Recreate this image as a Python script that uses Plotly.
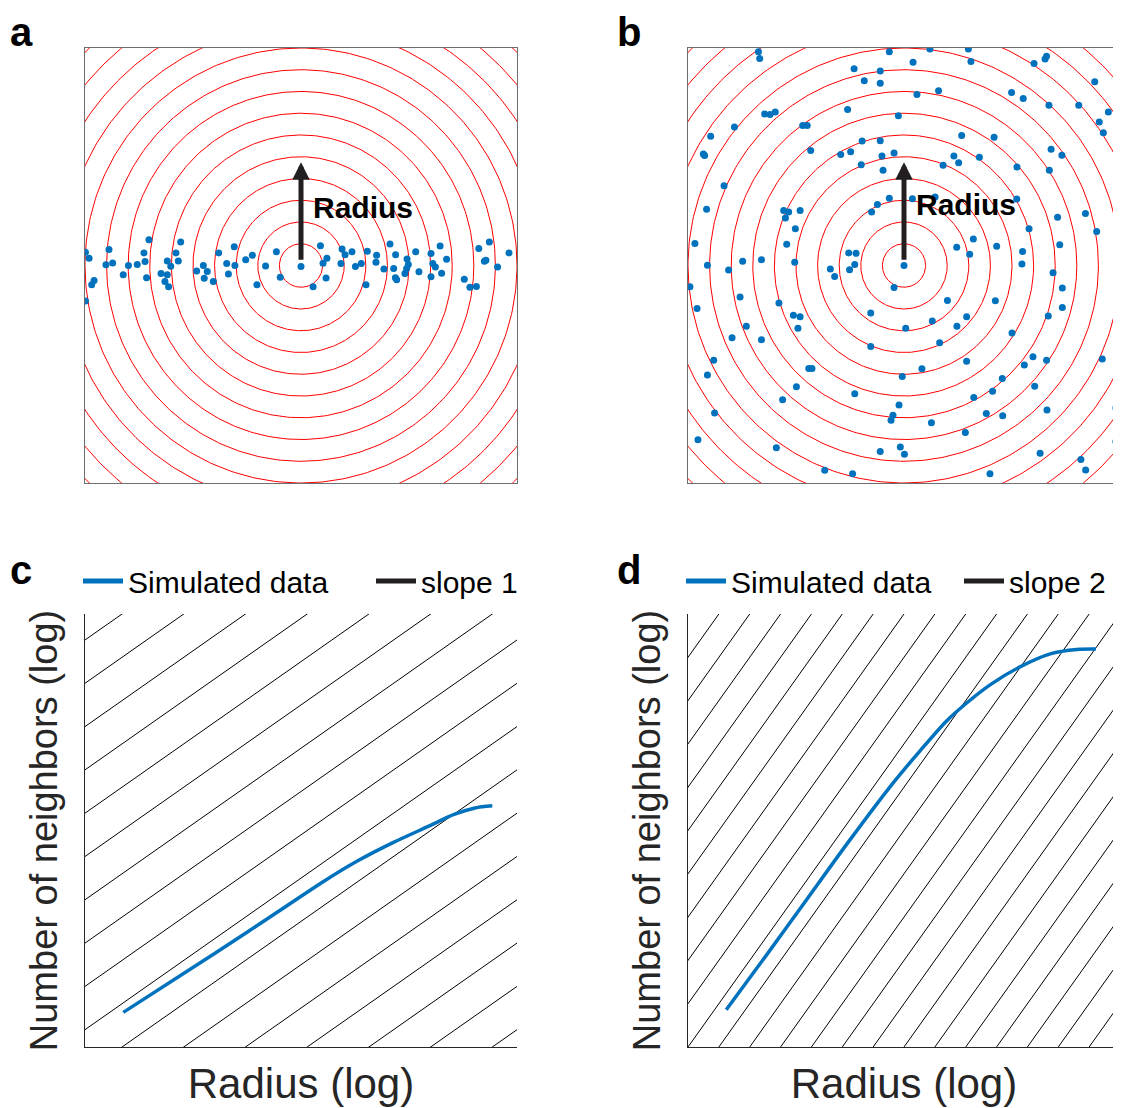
import numpy as np
import plotly.graph_objects as go

FONT = "Liberation Sans, Arial, Helvetica, sans-serif"
BLUE = "#0072BD"
RED = "#FF0000"
INK = "#231F20"

# ---------------- data ----------------
# Panel a: points spread along a line (units: box spans -10..10)
a_x = [-9.81, -9.98, -8.89, -9.03, -8.72, -9.69, -9.58, -9.98, -8.23, -7.99,
       -7.58, -7.27, -7.22, -7.04, -7.15, -6.48, -6.19, -6.03, -6.19, -6.30,
       -6.13, -5.79, -5.68, -5.57, -4.83, -4.52, -4.34, -4.48, -4.06, -3.81,
       -3.44, -3.36, -3.09, -3.06, -2.56, -2.25, -2.04, -1.64, -1.14, -0.96,
       0.00, 0.56, 0.90, 1.02, 1.20, 1.16, 1.90, 2.04, 1.85, 2.36,
       2.52, 2.79, 3.07, 3.01, 3.50, 3.47, 3.84, 4.12, 4.38, 4.29,
       4.37, 4.43, 4.81, 4.89, 4.97, 4.91, 5.31, 5.46, 6.02, 6.10,
       6.22, 6.02, 6.44, 6.51, 6.74, 7.56, 7.82, 8.12, 8.23, 8.72,
       8.49, 8.56, 9.10, 9.63]
a_y = [0.33, 0.61, 0.73, 0.03, 0.12, -0.89, -0.69, -1.63, -0.43, 0.00,
       0.05, 0.58, 0.18, 1.18, -0.56, -0.37, 0.21, -0.03, -0.42, -0.74,
       -0.98, 0.58, 0.21, 1.08, -0.25, 0.00, -0.28, -0.59, -0.74, 0.58,
       0.09, -0.39, 0.86, 0.00, 0.27, 0.47, -0.89, -0.02, 0.63, -0.54,
       -0.05, -0.98, 0.91, 0.10, 0.33, -0.57, 0.76, 0.49, 0.09, 0.63,
       -0.05, 0.09, 0.66, -0.88, 0.47, 0.15, -0.16, 0.99, 0.49, -0.14,
       -0.56, -0.65, -0.37, -0.14, 0.05, 0.30, 0.63, -0.29, 0.55, 0.09,
       -0.07, -0.52, 0.90, -0.36, 0.29, -0.63, -1.00, -0.96, 0.78, 1.08,
       0.19, 0.24, -0.07, 0.58]

# Panel b: points spread over the plane
b_x = [-6.74, -6.68, -0.68, 1.20, 2.98, 3.10, 0.42, -2.31, -1.10, -1.84,
       -1.10, 6.02, 6.53, 6.60, 8.83, 0.60, 1.60, 4.98, 5.52, 6.71,
       8.09, 9.46, 9.04, 9.23, -2.61, -6.45, -6.20, -5.96, -0.26, -7.85,
       -8.95, -9.29, -9.23, -4.69, -4.48, -4.32, -2.93, -2.47, -1.94, -1.10,
       -1.02, -0.46, -1.98, -0.97, 2.67, 4.17, 2.31, 2.53, 1.81, 3.49,
       6.81, 7.31, 5.23, 6.73, -8.33, -9.14, -5.57, -5.34, -5.49, -4.81,
       -5.03, -5.43, -9.68, -9.10, -7.47, -6.60, -8.12, -5.06, -0.68, -1.23,
       -1.50, 0.39, 1.44, 5.22, 5.79, 7.11, 8.40, 8.92, 3.21, 2.44,
       3.04, 4.29, 5.49, 5.46, 7.21, 6.90, 7.33, 7.33, -2.56, -2.22,
       -2.28, -2.52, -3.41, -3.21, 0.00, -0.46, -9.91, -9.58, -7.59, -5.79,
       -5.12, -4.81, -4.91, -7.30, -7.96, -6.60, -1.54, 0.08, 1.31, 2.01,
       2.45, 2.90, 4.23, 6.68, 5.00, 1.65, -1.54, -8.81, -9.10, -4.41,
       -4.26, 0.83, -0.08, 2.90, 5.57, 5.97, 6.60, 9.18, 4.55, 4.10,
       6.05, -4.98, -5.62, -2.28, 3.23, -0.23, -0.51, -0.60, 1.27, 3.81,
       4.57, 6.62, 9.81, -8.77, -9.54, -5.91, -1.10, -0.17, 0.02, 2.84,
       6.30, 8.19, 8.41, 9.81, -3.67, -2.38, 3.98]
b_y = [9.83, 9.52, 9.83, 9.95, 9.95, 9.38, 9.34, 9.05, 8.94, 8.49,
       8.38, 9.29, 9.49, 9.62, 8.45, 7.86, 8.03, 7.95, 7.68, 7.37,
       7.37, 7.06, 6.60, 6.10, 7.17, 6.97, 6.94, 7.06, 6.89, 6.37,
       5.94, 5.13, 5.06, 6.44, 6.44, 5.29, 5.10, 5.23, 5.72, 5.74,
       5.04, 5.17, 4.63, 4.38, 5.98, 5.90, 5.04, 4.72, 4.61, 4.98,
       5.35, 5.07, 4.53, 4.38, 3.67, 2.59, 2.53, 2.46, 2.18, 2.53,
       1.69, 0.98, 1.01, 0.01, 0.19, 0.27, -0.21, 0.15, 3.09, 2.81,
       2.46, 3.07, 3.15, 3.06, 1.69, 2.22, 2.39, 1.56, 1.22, 0.84,
       0.52, 0.89, 0.64, 0.07, 0.95, -0.33, -1.04, -1.93, 0.58, 0.56,
       0.05, -0.19, -0.16, -0.50, 0.00, -1.01, -0.98, -1.98, -1.45, -1.72,
       -2.29, -2.36, -2.89, -2.79, -3.32, -3.41, -2.18, -2.89, -2.55, -1.61,
       -2.79, -2.36, -1.62, -2.32, -3.10, -3.55, -3.72, -4.36, -5.04, -4.73,
       -4.73, -4.75, -5.10, -4.40, -4.58, -4.20, -4.36, -4.30, -5.20, -5.78,
       -5.55, -5.57, -6.17, -5.90, -6.07, -6.41, -6.89, -7.12, -7.23, -6.81,
       -6.91, -6.64, -6.55, -6.78, -8.01, -8.38, -8.55, -8.34, -8.68, -7.68,
       -8.63, -8.92, -9.40, -8.09, -9.41, -9.57, -9.57]

ring_radii = [1, 2, 3, 4, 5, 6, 7, 8, 9, 10, 11, 12, 13, 14]
arrow_tail = 0.2
arrow_tip = 4.75

# Panel c: log-log curve (x: log radius, y: log neighbours)
c_curve_x = [0.62, 2.10, 3.26, 3.84, 4.42, 4.99, 5.57, 5.98, 6.32, 6.60]
c_curve_y = [0.80, 2.16, 3.25, 3.80, 4.30, 4.72, 5.10, 5.37, 5.52, 5.57]
slope1_offsets = [-6.6, -5.6, -4.6, -3.6, -2.6, -1.6, -0.6, 0.4, 1.4, 2.4,
                  3.4, 4.4, 5.4, 6.4, 7.4, 8.4, 9.4]

# Panel d
d_curve_x = [0.62, 1.28, 1.93, 2.57, 3.28, 3.76, 4.19, 4.52, 4.90, 5.38, 5.87, 6.30, 6.61]
d_curve_y = [0.86, 2.14, 3.42, 4.68, 6.02, 6.84, 7.53, 7.95, 8.37, 8.78, 9.08, 9.18, 9.19]
slope2_offsets = [-14, -13, -12, -11, -10, -9, -8, -7, -6, -5, -4, -3, -2, -1,
                  0, 1, 2, 3, 4, 5, 6, 7, 8, 9]

# ---------------- helpers ----------------
def ring_xy(radii):
    th = np.linspace(0, 2 * np.pi, 361)
    xs, ys = [], []
    for r in radii:
        xs += list(r * np.cos(th)) + [None]
        ys += list(r * np.sin(th)) + [None]
    return xs, ys


def slope_lines(offsets, slope, x0=-1.0, x1=8.0):
    xs, ys = [], []
    for c in offsets:
        xs += [x0, x1, None]
        ys += [slope * x0 + c, slope * x1 + c, None]
    return xs, ys


fig = go.Figure()

# ---- panels a and b ----
rx, ry = ring_xy(ring_radii)
for (px, py, xa, ya) in [(a_x, a_y, "x", "y"), (b_x, b_y, "x2", "y2")]:
    fig.add_trace(go.Scatter(x=rx, y=ry, mode="lines", xaxis=xa, yaxis=ya,
                             line=dict(color=RED, width=1), showlegend=False,
                             hoverinfo="skip"))
    fig.add_trace(go.Scatter(x=px, y=py, mode="markers", xaxis=xa, yaxis=ya,
                             marker=dict(color=BLUE, size=7, line=dict(width=0)),
                             showlegend=False, cliponaxis=True))

# ---- panel c ----
sx, sy = slope_lines(slope1_offsets, 1)
fig.add_trace(go.Scatter(x=sx, y=sy, mode="lines", xaxis="x3", yaxis="y3",
                         line=dict(color="#000000", width=1), showlegend=False))
fig.add_trace(go.Scatter(x=c_curve_x, y=c_curve_y, mode="lines", xaxis="x3", yaxis="y3",
                         line=dict(color=BLUE, width=3.5, shape="spline", smoothing=0.8),
                         showlegend=False))
fig.add_trace(go.Scatter(x=[None], y=[None], mode="lines", xaxis="x3", yaxis="y3",
                         name="Simulated data", line=dict(color=BLUE, width=5),
                         legend="legend"))
fig.add_trace(go.Scatter(x=[None], y=[None], mode="lines", xaxis="x3", yaxis="y3",
                         name="slope 1", line=dict(color=INK, width=5),
                         legend="legend"))

# ---- panel d ----
sx, sy = slope_lines(slope2_offsets, 2)
fig.add_trace(go.Scatter(x=sx, y=sy, mode="lines", xaxis="x4", yaxis="y4",
                         line=dict(color="#000000", width=1), showlegend=False))
fig.add_trace(go.Scatter(x=d_curve_x, y=d_curve_y, mode="lines", xaxis="x4", yaxis="y4",
                         line=dict(color=BLUE, width=3.5, shape="spline", smoothing=0.8),
                         showlegend=False))
fig.add_trace(go.Scatter(x=[None], y=[None], mode="lines", xaxis="x4", yaxis="y4",
                         name="Simulated data", line=dict(color=BLUE, width=5),
                         legend="legend2"))
fig.add_trace(go.Scatter(x=[None], y=[None], mode="lines", xaxis="x4", yaxis="y4",
                         name="slope 2", line=dict(color=INK, width=5),
                         legend="legend2"))

# The page body has an 8px margin: size the figure so it ends at the window edge
OFF = 8
W, H = 1121 - OFF, 1108 - OFF


def fx(px):
    return (px - OFF) / W


def fy(py):
    return 1 - (py - OFF) / H


dom_left = [fx(85), fx(517)]
dom_right = [fx(688), fx(1120)]
dom_top = [fy(483), fy(48)]
dom_bot = [fy(1047), fy(614)]

box_axis = dict(range=[-10, 10], showline=True, mirror=True, linecolor="#6E6E6E",
                linewidth=1, showticklabels=False, ticks="", showgrid=False,
                zeroline=False, fixedrange=True)
log_x = dict(range=[0, 7], showline=True, mirror=False, linecolor="#262626", linewidth=1,
             showticklabels=False, ticks="", showgrid=False, zeroline=False,
             title=dict(text="Radius (log)", font=dict(family=FONT, size=42, color="#262626"),
                        standoff=21))
log_y = dict(range=[0, 10], showline=True, mirror=False, linecolor="#262626", linewidth=1,
             showticklabels=False, ticks="", showgrid=False, zeroline=False,
             title=dict(text="Number of neighbors (log)",
                        font=dict(family=FONT, size=38, color="#262626"), standoff=14))

legend_common = dict(orientation="h", yanchor="middle", xanchor="left",
                     font=dict(family=FONT, size=30, color="#000000"),
                     bgcolor="rgba(0,0,0,0)", entrywidthmode="pixels",
                     itemwidth=40, itemclick=False, itemdoubleclick=False)

fig.update_layout(
    width=W, height=H, autosize=False,
    margin=dict(l=0, r=0, t=0, b=0, pad=0, autoexpand=False),
    paper_bgcolor="white", plot_bgcolor="white",
    font=dict(family=FONT, color="#000000"),
    xaxis=dict(domain=dom_left, anchor="y", **box_axis),
    yaxis=dict(domain=dom_top, anchor="x", **box_axis),
    xaxis2=dict(domain=dom_right, anchor="y2", **box_axis),
    yaxis2=dict(domain=dom_top, anchor="x2", **box_axis),
    xaxis3=dict(domain=dom_left, anchor="y3", **log_x),
    yaxis3=dict(domain=dom_bot, anchor="x3", **log_y),
    xaxis4=dict(domain=dom_right, anchor="y4", **log_x),
    yaxis4=dict(domain=dom_bot, anchor="x4", **log_y),
    legend=dict(x=fx(78), y=fy(581), entrywidth=238, **legend_common),
    legend2=dict(x=fx(681), y=fy(581), entrywidth=223, **legend_common),
)

annotations = []
# Arrows and "Radius" labels
for xa, ya, ty in [("x", "y", 2.65), ("x2", "y2", 2.82)]:
    annotations.append(dict(x=0, y=arrow_tip, ax=0, ay=arrow_tail, xref=xa, yref=ya,
                            axref=xa, ayref=ya, showarrow=True, arrowhead=2,
                            arrowsize=0.7, arrowwidth=5, arrowcolor=INK, text=""))
    annotations.append(dict(x=0.45, y=ty, xref=xa, yref=ya, text="<b>Radius</b>",
                            showarrow=False, xanchor="left", yanchor="middle",
                            font=dict(family=FONT, size=30, color="#000000")))
# Panel letters
for letter, px, py, anc in [("a", fx(8), 1.0, "top"), ("b", fx(615), 1.0, "top"),
                            ("c", fx(8), fy(594), "bottom"),
                            ("d", fx(615), fy(594), "bottom")]:
    annotations.append(dict(x=px, y=py, xref="paper", yref="paper", text=f"<b>{letter}</b>",
                            showarrow=False, xanchor="left", yanchor=anc,
                            font=dict(family=FONT, size=40, color="#000000")))
fig.update_layout(annotations=annotations)

fig.write_html("out.html")
